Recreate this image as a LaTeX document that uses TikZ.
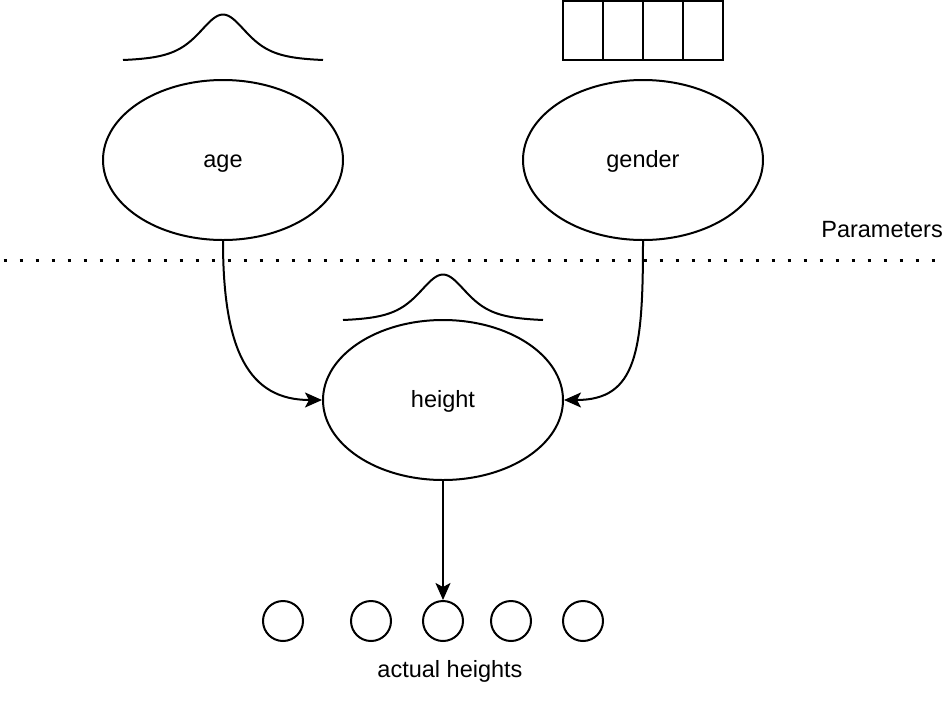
\documentclass[tikz,border=0pt]{standalone}
\usepackage{fontspec}
\setmainfont{Liberation Sans}
\usetikzlibrary{arrows.meta,shapes.geometric}
\begin{document}
\begin{tikzpicture}[x=1pt,y=-1pt,
  every node/.style={font=\fontsize{23.5}{28}\selectfont},
  ell/.style={ellipse,draw,line width=2pt,minimum width=240pt,minimum height=160pt,inner sep=0pt},
  obs/.style={circle,draw,line width=2pt,minimum size=40pt,inner sep=0pt},
  cell/.style={rectangle,draw,line width=2pt,minimum width=40pt,minimum height=59pt,inner sep=0pt},
  lbl/.style={anchor=base,inner sep=0pt},
  arr/.style={line width=2pt,-{Stealth[length=17pt,width=15pt,inset=4pt]}},
  bell/.style={line width=2pt,smooth},
  dotline/.style={line width=3pt,dash pattern=on 3pt off 13pt}]
\useasboundingbox (0,0) rectangle (946,702);
% ellipses
\node[ell] (age) at (223,160) {};
\node[ell] (gender) at (643,160) {};
\node[ell] (height) at (443,400) {};
\node[lbl] (agel) at (223,167) {age};
\node[lbl] (genderl) at (643,167) {gender};
\node[lbl] (heightl) at (443,407) {height};
% bell curves
\draw[bell] plot[domain=-100:100,samples=121] ({223+\x},{60-46.8*(1/((1+(\x/45)^2)^2)-0.0283)});
\draw[bell] plot[domain=-100:100,samples=121] ({443+\x},{320-46.8*(1/((1+(\x/45)^2)^2)-0.0283)});
% categorical boxes
\node[cell] (b1) at (583,30.5) {};
\node[cell] (b2) at (623,30.5) {};
\node[cell] (b3) at (663,30.5) {};
\node[cell] (b4) at (703,30.5) {};
% dotted separator
\coordinate (dl) at (3.5,260);
\coordinate (dr) at (946,260);
\draw[dotline] (dl) -- (dr);
\node[anchor=base east,inner sep=0pt] (params) at (943,237) {Parameters};
% observations
\node[obs] (o1) at (283,621) {};
\node[obs] (o2) at (371,621) {};
\node[obs] (o3) at (443,621) {};
\node[obs] (o4) at (511,621) {};
\node[obs] (o5) at (583,621) {};
\node[lbl] (actual) at (450,677) {actual heights};
% connectors
\draw[arr] (age.south) .. controls +(0,110) and +(-73,0) .. (height.west);
\draw[arr] (gender.south) .. controls +(0,110) and +(73,0) .. (height.east);
\draw[arr] (height.south) -- (o3.north);
\end{tikzpicture}
\end{document}
